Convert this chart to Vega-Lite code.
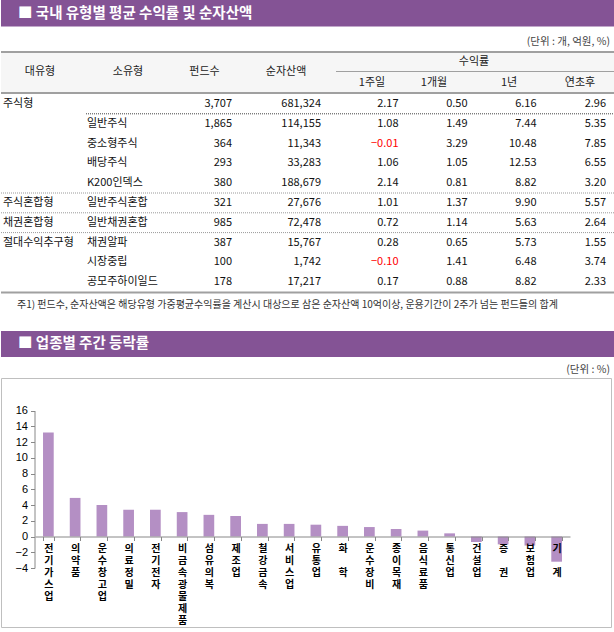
{
  "$schema": "https://vega.github.io/schema/vega-lite/v6.json",
  "padding": 0,
  "spacing": 0,
  "bounds": "flush",
  "background": "white",
  "config": {"view": {"stroke": null}, "font": "Noto Sans CJK KR"},
  "vconcat": [
    {
      "width": 614, "height": 94,
      "data": {"values": [{}]},
      "layer": [
        {"mark": {"type": "rect", "color": "#845395"},
         "encoding": {"x": {"datum": 0, "type": "quantitative", "scale": {"domain": [0, 614], "nice": false, "zero": false}, "axis": null}, "x2": {"datum": 614},
                      "y": {"datum": 0, "type": "quantitative", "scale": {"domain": [0, 94], "nice": false, "zero": false, "reverse": true}, "axis": null}, "y2": {"datum": 26.5}}},
        {"mark": {"type": "rect", "color": "#f6f6f6"},
         "encoding": {"x": {"datum": 0, "type": "quantitative"}, "x2": {"datum": 614}, "y": {"datum": 52, "type": "quantitative"}, "y2": {"datum": 93}}},
        {"mark": {"type": "text", "align": "left", "baseline": "middle", "fontSize": 14.5, "fontWeight": "bold", "color": "white"},
         "encoding": {"x": {"datum": 17, "type": "quantitative"}, "y": {"datum": 13.5, "type": "quantitative"}, "text": {"value": "■ 국내 유형별 평균 수익률 및 순자산액"}}},
        {"mark": {"type": "text", "align": "right", "baseline": "middle", "fontSize": 10.5, "color": "#444"},
         "encoding": {"x": {"datum": 609, "type": "quantitative"}, "y": {"datum": 42, "type": "quantitative"}, "text": {"value": "(단위 : 개, 억원, %)"}}},
        {"mark": {"type": "rule", "color": "#a0a0a0", "strokeWidth": 2},
         "encoding": {"x": {"datum": 0, "type": "quantitative"}, "x2": {"datum": 614}, "y": {"datum": 52, "type": "quantitative"}}},
        {"mark": {"type": "rule", "color": "#a0a0a0", "strokeWidth": 1},
         "encoding": {"x": {"datum": 335, "type": "quantitative"}, "x2": {"datum": 614}, "y": {"datum": 71.5, "type": "quantitative"}}},
        {"mark": {"type": "rule", "color": "#a0a0a0", "strokeWidth": 2},
         "encoding": {"x": {"datum": 0, "type": "quantitative"}, "x2": {"datum": 614}, "y": {"datum": 93, "type": "quantitative"}}},
        {"mark": {"type": "text", "align": "center", "baseline": "middle", "fontSize": 11, "color": "#222"},
         "encoding": {"x": {"datum": 39, "type": "quantitative"}, "y": {"datum": 72, "type": "quantitative"}, "text": {"value": "대유형"}}},
        {"mark": {"type": "text", "align": "center", "baseline": "middle", "fontSize": 11, "color": "#222"},
         "encoding": {"x": {"datum": 127, "type": "quantitative"}, "y": {"datum": 72, "type": "quantitative"}, "text": {"value": "소유형"}}},
        {"mark": {"type": "text", "align": "center", "baseline": "middle", "fontSize": 11, "color": "#222"},
         "encoding": {"x": {"datum": 203.5, "type": "quantitative"}, "y": {"datum": 72, "type": "quantitative"}, "text": {"value": "펀드수"}}},
        {"mark": {"type": "text", "align": "center", "baseline": "middle", "fontSize": 11, "color": "#222"},
         "encoding": {"x": {"datum": 285, "type": "quantitative"}, "y": {"datum": 72, "type": "quantitative"}, "text": {"value": "순자산액"}}},
        {"mark": {"type": "text", "align": "center", "baseline": "middle", "fontSize": 11, "color": "#222"},
         "encoding": {"x": {"datum": 473, "type": "quantitative"}, "y": {"datum": 61.5, "type": "quantitative"}, "text": {"value": "수익률"}}},
        {"mark": {"type": "text", "align": "center", "baseline": "middle", "fontSize": 11, "color": "#222"},
         "encoding": {"x": {"datum": 371, "type": "quantitative"}, "y": {"datum": 82.5, "type": "quantitative"}, "text": {"value": "1주일"}}},
        {"mark": {"type": "text", "align": "center", "baseline": "middle", "fontSize": 11, "color": "#222"},
         "encoding": {"x": {"datum": 433, "type": "quantitative"}, "y": {"datum": 82.5, "type": "quantitative"}, "text": {"value": "1개월"}}},
        {"mark": {"type": "text", "align": "center", "baseline": "middle", "fontSize": 11, "color": "#222"},
         "encoding": {"x": {"datum": 508, "type": "quantitative"}, "y": {"datum": 82.5, "type": "quantitative"}, "text": {"value": "1년"}}},
        {"mark": {"type": "text", "align": "center", "baseline": "middle", "fontSize": 11, "color": "#222"},
         "encoding": {"x": {"datum": 579, "type": "quantitative"}, "y": {"datum": 82.5, "type": "quantitative"}, "text": {"value": "연초후"}}}
      ]
    },
    {
      "width": 614, "height": 198,
      "data": {"values": [
        {"row": 1, "dae": "주식형", "so": "", "funds": 3707, "nav": 681324, "w1": 2.17, "m1": 0.50, "y1": 6.16, "ytd": 2.96},
        {"row": 2, "dae": "", "so": "일반주식", "funds": 1865, "nav": 114155, "w1": 1.08, "m1": 1.49, "y1": 7.44, "ytd": 5.35},
        {"row": 3, "dae": "", "so": "중소형주식", "funds": 364, "nav": 11343, "w1": -0.01, "m1": 3.29, "y1": 10.48, "ytd": 7.85},
        {"row": 4, "dae": "", "so": "배당주식", "funds": 293, "nav": 33283, "w1": 1.06, "m1": 1.05, "y1": 12.53, "ytd": 6.55},
        {"row": 5, "dae": "", "so": "K200인덱스", "funds": 380, "nav": 188679, "w1": 2.14, "m1": 0.81, "y1": 8.82, "ytd": 3.20},
        {"row": 6, "dae": "주식혼합형", "so": "일반주식혼합", "funds": 321, "nav": 27676, "w1": 1.01, "m1": 1.37, "y1": 9.90, "ytd": 5.57},
        {"row": 7, "dae": "채권혼합형", "so": "일반채권혼합", "funds": 985, "nav": 72478, "w1": 0.72, "m1": 1.14, "y1": 5.63, "ytd": 2.64},
        {"row": 8, "dae": "절대수익추구형", "so": "채권알파", "funds": 387, "nav": 15767, "w1": 0.28, "m1": 0.65, "y1": 5.73, "ytd": 1.55},
        {"row": 9, "dae": "", "so": "시장중립", "funds": 100, "nav": 1742, "w1": -0.10, "m1": 1.41, "y1": 6.48, "ytd": 3.74},
        {"row": 10, "dae": "", "so": "공모주하이일드", "funds": 178, "nav": 17217, "w1": 0.17, "m1": 0.88, "y1": 8.82, "ytd": 2.33}
      ]},
      "encoding": {
        "y": {"field": "row", "type": "ordinal", "scale": {"paddingInner": 0, "paddingOuter": 0}, "axis": null}
      },
      "layer": [
        {"transform": [{"filter": "datum.row == 1"}],
         "mark": {"type": "rule", "color": "#444", "strokeDash": [1, 1]},
         "encoding": {"x": {"datum": 85, "type": "quantitative", "scale": {"domain": [0, 614], "nice": false, "zero": false}, "axis": null}, "x2": {"datum": 614},
                      "y": {"field": "row", "type": "ordinal", "bandPosition": 1}}},
        {"transform": [{"filter": "datum.row == 5 || datum.row == 6 || datum.row == 7"}],
         "mark": {"type": "rule", "color": "#999", "strokeDash": [1, 1]},
         "encoding": {"x": {"datum": 0, "type": "quantitative"}, "x2": {"datum": 614},
                      "y": {"field": "row", "type": "ordinal", "bandPosition": 1}}},
        {"mark": {"type": "text", "align": "left", "baseline": "middle", "fontSize": 11, "color": "#111"},
         "encoding": {"x": {"datum": 2, "type": "quantitative"}, "text": {"field": "dae"}}},
        {"mark": {"type": "text", "align": "left", "baseline": "middle", "fontSize": 11, "color": "#111"},
         "encoding": {"x": {"datum": 86, "type": "quantitative"}, "text": {"field": "so"}}},
        {"mark": {"type": "text", "align": "right", "baseline": "middle", "fontSize": 11, "color": "#111"},
         "encoding": {"x": {"datum": 231, "type": "quantitative"}, "text": {"field": "funds", "type": "quantitative", "format": ",.0f"}}},
        {"mark": {"type": "text", "align": "right", "baseline": "middle", "fontSize": 11, "color": "#111"},
         "encoding": {"x": {"datum": 320, "type": "quantitative"}, "text": {"field": "nav", "type": "quantitative", "format": ",.0f"}}},
        {"mark": {"type": "text", "align": "right", "baseline": "middle", "fontSize": 11},
         "encoding": {"x": {"datum": 397.5, "type": "quantitative"}, "text": {"field": "w1", "type": "quantitative", "format": ".2f"},
                      "color": {"condition": {"test": "datum.w1 < 0", "value": "#ff0000"}, "value": "#111"}}},
        {"mark": {"type": "text", "align": "right", "baseline": "middle", "fontSize": 11, "color": "#111"},
         "encoding": {"x": {"datum": 466.5, "type": "quantitative"}, "text": {"field": "m1", "type": "quantitative", "format": ".2f"}}},
        {"mark": {"type": "text", "align": "right", "baseline": "middle", "fontSize": 11, "color": "#111"},
         "encoding": {"x": {"datum": 535.5, "type": "quantitative"}, "text": {"field": "y1", "type": "quantitative", "format": ".2f"}}},
        {"mark": {"type": "text", "align": "right", "baseline": "middle", "fontSize": 11, "color": "#111"},
         "encoding": {"x": {"datum": 605, "type": "quantitative"}, "text": {"field": "ytd", "type": "quantitative", "format": ".2f"}}}
      ]
    },
    {
      "width": 614, "height": 86,
      "data": {"values": [{}]},
      "layer": [
        {"mark": {"type": "rule", "color": "#a0a0a0", "strokeWidth": 2},
         "encoding": {"x": {"datum": 0, "type": "quantitative", "scale": {"domain": [0, 614], "nice": false, "zero": false}, "axis": null}, "x2": {"datum": 614},
                      "y": {"datum": 0.5, "type": "quantitative", "scale": {"domain": [0, 86], "nice": false, "zero": false, "reverse": true}, "axis": null}}},
        {"mark": {"type": "text", "align": "left", "baseline": "middle", "fontSize": 10, "color": "#333"},
         "encoding": {"x": {"datum": 16, "type": "quantitative"}, "y": {"datum": 13, "type": "quantitative"}, "text": {"value": "주1) 펀드수, 순자산액은 해당유형 가중평균수익률을 계산시 대상으로 삼은 순자산액 10억이상, 운용기간이 2주가 넘는 펀드들의 합계"}}},
        {"mark": {"type": "rect", "color": "#845395"},
         "encoding": {"x": {"datum": 0, "type": "quantitative"}, "x2": {"datum": 614}, "y": {"datum": 39, "type": "quantitative"}, "y2": {"datum": 65}}},
        {"mark": {"type": "text", "align": "left", "baseline": "middle", "fontSize": 14.5, "fontWeight": "bold", "color": "white"},
         "encoding": {"x": {"datum": 17, "type": "quantitative"}, "y": {"datum": 52, "type": "quantitative"}, "text": {"value": "■ 업종별 주간 등락률"}}},
        {"mark": {"type": "text", "align": "right", "baseline": "middle", "fontSize": 10.5, "color": "#444"},
         "encoding": {"x": {"datum": 609, "type": "quantitative"}, "y": {"datum": 78, "type": "quantitative"}, "text": {"value": "(단위 : %)"}}}
      ]
    },
    {
      "width": 610, "height": 249,
      "view": {"stroke": "#bfbfbf", "strokeWidth": 1},
      "data": {"values": [
        {"sector": "전기가스업", "value": 13.2},
        {"sector": "의약품", "value": 4.9},
        {"sector": "운수창고업", "value": 4.0},
        {"sector": "의료정밀", "value": 3.4},
        {"sector": "전기전자", "value": 3.4},
        {"sector": "비금속광물제품", "value": 3.1},
        {"sector": "섬유의복", "value": 2.75},
        {"sector": "제조업", "value": 2.6},
        {"sector": "철강금속", "value": 1.6},
        {"sector": "서비스업", "value": 1.6},
        {"sector": "유통업", "value": 1.5},
        {"sector": "화 학", "value": 1.35},
        {"sector": "운수장비", "value": 1.2},
        {"sector": "종이목재", "value": 0.95},
        {"sector": "음식료품", "value": 0.75},
        {"sector": "통신업", "value": 0.4},
        {"sector": "건설업", "value": -0.7},
        {"sector": "증 권", "value": -1.0},
        {"sector": "보험업", "value": -1.15},
        {"sector": "기 계", "value": -3.2}
      ]},
      "mark": {"type": "bar", "color": "#b48fc4"},
      "encoding": {
        "x": {"field": "sector", "type": "nominal", "sort": null,
              "scale": {"range": [34, 569], "paddingInner": 0.6, "paddingOuter": 0.3},
              "axis": {"title": null, "orient": "bottom", "offset": -90.5, "labelAngle": 0, "labelAlign": "center", "labelBaseline": "top",
                       "labelExpr": "split(replace(datum.label, ' ', '\u2800'), '')", "labelLineHeight": 12, "labelFontSize": 10, "labelFontWeight": "bold",
                       "labelFont": "Noto Sans CJK KR", "labelColor": "#000", "labelPadding": 3, "tickSize": 4, "tickBand": "extent",
                       "domainColor": "#888", "tickColor": "#888", "labelOverlap": false, "labelBound": false, "zindex": 1, "grid": false}},
        "y": {"field": "value", "type": "quantitative",
              "scale": {"domain": [-4, 16], "range": [190, 32.5], "nice": false},
              "axis": {"title": null, "offset": -33.5, "values": [-4, -2, 0, 2, 4, 6, 8, 10, 12, 14, 16], "tickSize": 4, "labelPadding": 3,
                       "labelFontSize": 11, "labelFont": "Liberation Sans", "labelColor": "#000", "domainColor": "#888", "tickColor": "#888", "grid": false}}
      }
    }
  ]
}
